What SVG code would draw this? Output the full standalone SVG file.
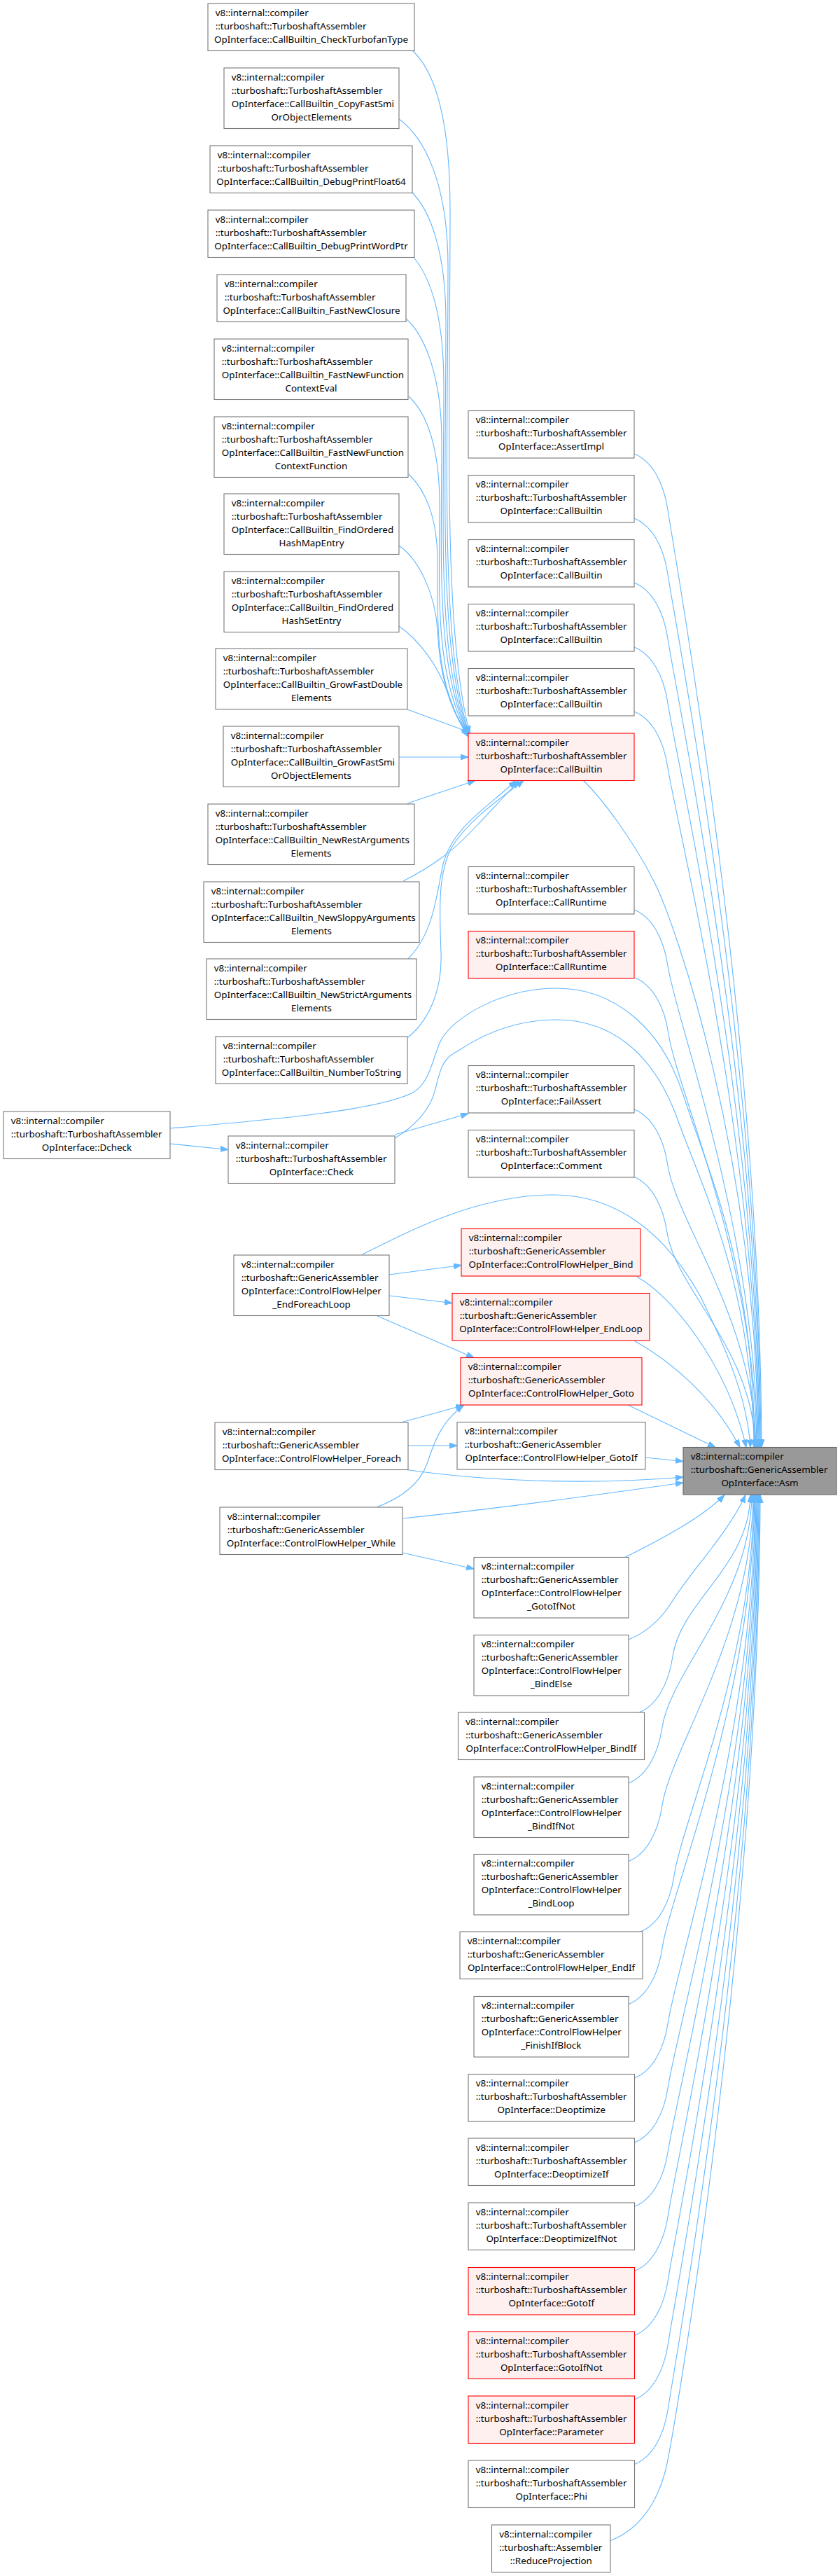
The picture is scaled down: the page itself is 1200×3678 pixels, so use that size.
<svg xmlns="http://www.w3.org/2000/svg" width="1200" height="3678" viewBox="0 0 1200 3678">
<style>
.n rect{fill:#ffffff;stroke:#777777;stroke-width:1.1}
.r rect{fill:#fff0f0;stroke:#ff0000;stroke-width:1.1}
.g rect{fill:#999999;stroke:#666666;stroke-width:1.1}
text{font-family:"Noto Sans","DejaVu Sans",sans-serif;font-size:13.4px;fill:#000000}
text.c{text-anchor:middle}
#edges path{fill:none;stroke:#63b8ff;stroke-width:1.1;marker-end:url(#ah)}
</style>
<defs>
<marker id="ah" markerUnits="userSpaceOnUse" markerWidth="12" markerHeight="10" viewBox="0 0 12 10" refX="11" refY="4" orient="auto"><path d="M0,0 L11,4 L0,8 Z" fill="#63b8ff" stroke="#63b8ff" stroke-width="1"/></marker>
</defs>
<rect width="1200" height="3678" fill="#ffffff"/>
<g id="edges">
<path d="M589,72 C625,105 643,180 643,300 C643,600 632,900 671,1047"/>
<path d="M570,170 C605,195 640,260 640,380 C640,650 628,920 670,1047.5"/>
<path d="M587,273 C615,300 637,360 637,460 C637,700 626,930 669.5,1048"/>
<path d="M589,365 C615,395 634,450 634,550 C634,760 624,940 669,1049"/>
<path d="M580,455 C608,480 631,540 631,630 C631,800 622,950 669,1050"/>
<path d="M584,566 C610,590 628,640 628,720 C628,850 620,960 669,1051"/>
<path d="M584,677 C608,700 625,740 625,800 C625,900 622,980 669,1052"/>
<path d="M570,779 C600,800 622,850 625,900 C628,960 640,1010 669,1050"/>
<path d="M570,894 C600,915 625,950 640,990 C648,1012 655,1030 669,1049"/>
<path d="M582,1013 L672,1046"/>
<path d="M570,1081 L669,1081"/>
<path d="M582,1147 L679,1114.5"/>
<path d="M576,1258 C615,1238 645,1218 680,1180 C705,1153 725,1133 741,1114.5"/>
<path d="M583,1369 C622,1330 624,1270 634,1230 C648,1180 700,1150 737,1114.5"/>
<path d="M583,1481 C615,1455 632,1410 630,1360 C628,1300 625,1250 645,1210 C670,1170 715,1140 748,1114.5"/>
<path d="M906,648 C931,658 948,688 954,728 C966,808 1086,1464 1088,2066.5"/>
<path d="M906,740 C931,750 948,780 954,820 C966,900 1085,1505 1087,2066.5"/>
<path d="M906,832 C931,842 948,872 954,912 C966,992 1084,1547 1086,2066.5"/>
<path d="M906,924 C931,934 948,964 954,1004 C966,1084 1083,1588 1085,2066.5"/>
<path d="M906,1016 C931,1026 948,1056 954,1096 C966,1176 1082,1630 1084,2066.5"/>
<path d="M833,1114 C860,1140 905,1200 935,1260 C965,1320 1081,1650 1083,2066.5"/>
<path d="M906,1299 C931,1309 948,1339 954,1379 C966,1459 1080,1757 1082,2066.5"/>
<path d="M907,1396 C932,1406 949,1436 955,1476 C967,1556 1079,1800 1081,2066.5"/>
<path d="M906,1584 C931,1594 948,1624 954,1664 C966,1744 1078,1885 1080,2066.5"/>
<path d="M905,1680 C930,1690 947,1720 953,1760 C965,1840 1077,1928 1079,2066.5"/>
<path d="M243,1633 L326,1641.5"/>
<path d="M243,1611 C400,1598 540,1585 590,1560 C615,1545 618,1510 630,1485 C650,1450 720,1411 795,1411 C880,1411 945,1470 975,1560 C1010,1670 1076,1800 1078,2066.5"/>
<path d="M564,1620 L669,1590"/>
<path d="M564,1625 C590,1610 615,1585 622,1555 C630,1520 635,1510 655,1500 C700,1470 745,1456 795,1456 C870,1456 930,1500 965,1590 C1000,1690 1075,1830 1077,2066.5"/>
<path d="M518,1791 C580,1760 680,1706 791,1706 C880,1706 950,1760 1000,1850 C1040,1930 1068,2000 1072,2066.5"/>
<path d="M556,1820 L659,1806.5"/>
<path d="M556,1850 L646,1860.5"/>
<path d="M538,1878.5 L677,1938.5"/>
<path d="M910,1823 C960,1850 1040,1950 1066,2066.5"/>
<path d="M906,1914 C960,1945 1020,1995 1057,2066.5"/>
<path d="M897,2006 L1022,2066.5"/>
<path d="M573,2031 L662,2006.5"/>
<path d="M538,2152 C575,2138 600,2118 610,2090 C620,2060 630,2030 662,2007"/>
<path d="M583,2064 L653,2064"/>
<path d="M922,2081 L976,2086.5"/>
<path d="M578,2098 C700,2116 850,2120 976,2109"/>
<path d="M575,2168 C700,2155 850,2135 976,2117"/>
<path d="M575,2217 L677,2240"/>
<path d="M893,2223.5 C950,2195 1005,2165 1035,2134.5"/>
<path d="M898,2341 C925,2330 945,2310 958,2290 C985,2245 1040,2190 1065,2134.5"/>
<path d="M913,2445 C938,2435 955,2405 961,2365 C973,2285 1070,2238 1072,2134.5"/>
<path d="M898,2546 C923,2536 940,2506 946,2466 C958,2386 1072,2283 1074,2134.5"/>
<path d="M898,2657.5 C923,2647.5 940,2617.5 946,2577.5 C958,2497.5 1074,2334 1076,2134.5"/>
<path d="M915,2758 C940,2748 957,2718 963,2678 C975,2598 1075,2379 1077,2134.5"/>
<path d="M898,2861.5 C923,2851.5 940,2821.5 946,2781.5 C958,2701.5 1076,2425 1078,2134.5"/>
<path d="M906.5,2967 C931.5,2957 948.5,2927 954.5,2887 C966.5,2807 1077,2473 1079,2134.5"/>
<path d="M906.5,3059 C931.5,3049 948.5,3019 954.5,2979 C966.5,2899 1078,2514 1080,2134.5"/>
<path d="M906.5,3150.5 C931.5,3140.5 948.5,3110.5 954.5,3070.5 C966.5,2990.5 1079,2555 1081,2134.5"/>
<path d="M906.5,3242.5 C931.5,3232.5 948.5,3202.5 954.5,3162.5 C966.5,3082.5 1080,2597 1082,2134.5"/>
<path d="M906.5,3334.5 C931.5,3324.5 948.5,3294.5 954.5,3254.5 C966.5,3174.5 1081,2638 1083,2134.5"/>
<path d="M906.5,3426 C931.5,3416 948.5,3386 954.5,3346 C966.5,3266 1082,2679 1084,2134.5"/>
<path d="M906.5,3518.5 C931.5,3508.5 948.5,3478.5 954.5,3438.5 C966.5,3358.5 1083,2721 1085,2134.5"/>
<path d="M872,3627.5 C905,3615 935,3585 950,3530 C962,3486 1084,2762 1086,2134.5"/>
</g>
<g id="n_checkturbofantype" class="n"><rect x="297" y="5" width="295" height="67.5"/><text x="307.7" y="22.5">v8::internal::compiler</text><text x="307.7" y="41.5">::turboshaft::TurboshaftAssembler</text><text class="c" x="444.5" y="60.5">OpInterface::CallBuiltin_CheckTurbofanType</text></g>
<g id="n_copyfastsmi" class="n"><rect x="320" y="97" width="250" height="86.5"/><text x="330.7" y="114.5">v8::internal::compiler</text><text x="330.7" y="133.5">::turboshaft::TurboshaftAssembler</text><text x="330.7" y="152.5">OpInterface::CallBuiltin_CopyFastSmi</text><text class="c" x="445" y="171.5">OrObjectElements</text></g>
<g id="n_debugprintfloat64" class="n"><rect x="300" y="208" width="289" height="67.5"/><text x="310.7" y="225.5">v8::internal::compiler</text><text x="310.7" y="244.5">::turboshaft::TurboshaftAssembler</text><text class="c" x="444.5" y="263.5">OpInterface::CallBuiltin_DebugPrintFloat64</text></g>
<g id="n_debugprintwordptr" class="n"><rect x="297" y="300" width="295" height="67.5"/><text x="307.7" y="317.5">v8::internal::compiler</text><text x="307.7" y="336.5">::turboshaft::TurboshaftAssembler</text><text class="c" x="444.5" y="355.5">OpInterface::CallBuiltin_DebugPrintWordPtr</text></g>
<g id="n_fastnewclosure" class="n"><rect x="310" y="392" width="270" height="67.5"/><text x="320.7" y="409.5">v8::internal::compiler</text><text x="320.7" y="428.5">::turboshaft::TurboshaftAssembler</text><text class="c" x="445" y="447.5">OpInterface::CallBuiltin_FastNewClosure</text></g>
<g id="n_contexteval" class="n"><rect x="306" y="484" width="277" height="86.5"/><text x="316.7" y="501.5">v8::internal::compiler</text><text x="316.7" y="520.5">::turboshaft::TurboshaftAssembler</text><text x="316.7" y="539.5">OpInterface::CallBuiltin_FastNewFunction</text><text class="c" x="444.5" y="558.5">ContextEval</text></g>
<g id="n_contextfunction" class="n"><rect x="306" y="595" width="277" height="86.5"/><text x="316.7" y="612.5">v8::internal::compiler</text><text x="316.7" y="631.5">::turboshaft::TurboshaftAssembler</text><text x="316.7" y="650.5">OpInterface::CallBuiltin_FastNewFunction</text><text class="c" x="444.5" y="669.5">ContextFunction</text></g>
<g id="n_hashmapentry" class="n"><rect x="320" y="705" width="250" height="86.5"/><text x="330.7" y="722.5">v8::internal::compiler</text><text x="330.7" y="741.5">::turboshaft::TurboshaftAssembler</text><text x="330.7" y="760.5">OpInterface::CallBuiltin_FindOrdered</text><text class="c" x="445" y="779.5">HashMapEntry</text></g>
<g id="n_hashsetentry" class="n"><rect x="320" y="816" width="250" height="86.5"/><text x="330.7" y="833.5">v8::internal::compiler</text><text x="330.7" y="852.5">::turboshaft::TurboshaftAssembler</text><text x="330.7" y="871.5">OpInterface::CallBuiltin_FindOrdered</text><text class="c" x="445" y="890.5">HashSetEntry</text></g>
<g id="n_growfastdouble" class="n"><rect x="308" y="926" width="274" height="86.5"/><text x="318.7" y="943.5">v8::internal::compiler</text><text x="318.7" y="962.5">::turboshaft::TurboshaftAssembler</text><text x="318.7" y="981.5">OpInterface::CallBuiltin_GrowFastDouble</text><text class="c" x="445" y="1000.5">Elements</text></g>
<g id="n_growfastsmi" class="n"><rect x="319" y="1037" width="251" height="86.5"/><text x="329.7" y="1054.5">v8::internal::compiler</text><text x="329.7" y="1073.5">::turboshaft::TurboshaftAssembler</text><text x="329.7" y="1092.5">OpInterface::CallBuiltin_GrowFastSmi</text><text class="c" x="444.5" y="1111.5">OrObjectElements</text></g>
<g id="n_newrest" class="n"><rect x="297" y="1148" width="295" height="86.5"/><text x="307.7" y="1165.5">v8::internal::compiler</text><text x="307.7" y="1184.5">::turboshaft::TurboshaftAssembler</text><text x="307.7" y="1203.5">OpInterface::CallBuiltin_NewRestArguments</text><text class="c" x="444.5" y="1222.5">Elements</text></g>
<g id="n_newsloppy" class="n"><rect x="291" y="1259" width="308" height="86.5"/><text x="301.7" y="1276.5">v8::internal::compiler</text><text x="301.7" y="1295.5">::turboshaft::TurboshaftAssembler</text><text x="301.7" y="1314.5">OpInterface::CallBuiltin_NewSloppyArguments</text><text class="c" x="445" y="1333.5">Elements</text></g>
<g id="n_newstrict" class="n"><rect x="295" y="1369" width="300" height="86.5"/><text x="305.7" y="1386.5">v8::internal::compiler</text><text x="305.7" y="1405.5">::turboshaft::TurboshaftAssembler</text><text x="305.7" y="1424.5">OpInterface::CallBuiltin_NewStrictArguments</text><text class="c" x="445" y="1443.5">Elements</text></g>
<g id="n_numbertostring" class="n"><rect x="308" y="1480" width="274" height="67.5"/><text x="318.7" y="1497.5">v8::internal::compiler</text><text x="318.7" y="1516.5">::turboshaft::TurboshaftAssembler</text><text class="c" x="445" y="1535.5">OpInterface::CallBuiltin_NumberToString</text></g>
<g id="n_check" class="n"><rect x="326" y="1622" width="238" height="67.5"/><text x="336.7" y="1639.5">v8::internal::compiler</text><text x="336.7" y="1658.5">::turboshaft::TurboshaftAssembler</text><text class="c" x="445" y="1677.5">OpInterface::Check</text></g>
<g id="n_dcheck" class="n"><rect x="5" y="1587" width="238" height="67.5"/><text x="15.7" y="1604.5">v8::internal::compiler</text><text x="15.7" y="1623.5">::turboshaft::TurboshaftAssembler</text><text class="c" x="124" y="1642.5">OpInterface::Dcheck</text></g>
<g id="n_endforeachloop" class="n"><rect x="334" y="1792" width="222" height="86.5"/><text x="344.7" y="1809.5">v8::internal::compiler</text><text x="344.7" y="1828.5">::turboshaft::GenericAssembler</text><text x="344.7" y="1847.5">OpInterface::ControlFlowHelper</text><text class="c" x="445" y="1866.5">_EndForeachLoop</text></g>
<g id="n_foreach" class="n"><rect x="307" y="2031" width="276" height="67.5"/><text x="317.7" y="2048.5">v8::internal::compiler</text><text x="317.7" y="2067.5">::turboshaft::GenericAssembler</text><text class="c" x="445" y="2086.5">OpInterface::ControlFlowHelper_Foreach</text></g>
<g id="n_while" class="n"><rect x="314" y="2152" width="261" height="67.5"/><text x="324.7" y="2169.5">v8::internal::compiler</text><text x="324.7" y="2188.5">::turboshaft::GenericAssembler</text><text class="c" x="444.5" y="2207.5">OpInterface::ControlFlowHelper_While</text></g>
<g id="n_assertimpl" class="n"><rect x="669" y="586.5" width="237" height="67.5"/><text x="679.7" y="604">v8::internal::compiler</text><text x="679.7" y="623">::turboshaft::TurboshaftAssembler</text><text class="c" x="787.5" y="642">OpInterface::AssertImpl</text></g>
<g id="n_callbuiltin1" class="n"><rect x="669" y="678.5" width="237" height="67.5"/><text x="679.7" y="696">v8::internal::compiler</text><text x="679.7" y="715">::turboshaft::TurboshaftAssembler</text><text class="c" x="787.5" y="734">OpInterface::CallBuiltin</text></g>
<g id="n_callbuiltin2" class="n"><rect x="669" y="770.5" width="237" height="67.5"/><text x="679.7" y="788">v8::internal::compiler</text><text x="679.7" y="807">::turboshaft::TurboshaftAssembler</text><text class="c" x="787.5" y="826">OpInterface::CallBuiltin</text></g>
<g id="n_callbuiltin3" class="n"><rect x="669" y="862.5" width="237" height="67.5"/><text x="679.7" y="880">v8::internal::compiler</text><text x="679.7" y="899">::turboshaft::TurboshaftAssembler</text><text class="c" x="787.5" y="918">OpInterface::CallBuiltin</text></g>
<g id="n_callbuiltin4" class="n"><rect x="669" y="954.5" width="237" height="67.5"/><text x="679.7" y="972">v8::internal::compiler</text><text x="679.7" y="991">::turboshaft::TurboshaftAssembler</text><text class="c" x="787.5" y="1010">OpInterface::CallBuiltin</text></g>
<g id="n_callbuiltin5" class="r"><rect x="669" y="1047" width="237" height="67.5"/><text x="679.7" y="1064.5">v8::internal::compiler</text><text x="679.7" y="1083.5">::turboshaft::TurboshaftAssembler</text><text class="c" x="787.5" y="1102.5">OpInterface::CallBuiltin</text></g>
<g id="n_callruntime1" class="n"><rect x="669" y="1237.5" width="237" height="67.5"/><text x="679.7" y="1255">v8::internal::compiler</text><text x="679.7" y="1274">::turboshaft::TurboshaftAssembler</text><text class="c" x="787.5" y="1293">OpInterface::CallRuntime</text></g>
<g id="n_callruntime2" class="r"><rect x="669" y="1329.5" width="237" height="67.5"/><text x="679.7" y="1347">v8::internal::compiler</text><text x="679.7" y="1366">::turboshaft::TurboshaftAssembler</text><text class="c" x="787.5" y="1385">OpInterface::CallRuntime</text></g>
<g id="n_failassert" class="n"><rect x="669" y="1521.5" width="237" height="67.5"/><text x="679.7" y="1539">v8::internal::compiler</text><text x="679.7" y="1558">::turboshaft::TurboshaftAssembler</text><text class="c" x="787.5" y="1577">OpInterface::FailAssert</text></g>
<g id="n_comment" class="n"><rect x="669" y="1613.5" width="237" height="67.5"/><text x="679.7" y="1631">v8::internal::compiler</text><text x="679.7" y="1650">::turboshaft::TurboshaftAssembler</text><text class="c" x="787.5" y="1669">OpInterface::Comment</text></g>
<g id="n_cfh_bind" class="r"><rect x="659" y="1754.5" width="256" height="67.5"/><text x="669.7" y="1772">v8::internal::compiler</text><text x="669.7" y="1791">::turboshaft::GenericAssembler</text><text class="c" x="787" y="1810">OpInterface::ControlFlowHelper_Bind</text></g>
<g id="n_cfh_endloop" class="r"><rect x="646" y="1846.5" width="282" height="67.5"/><text x="656.7" y="1864">v8::internal::compiler</text><text x="656.7" y="1883">::turboshaft::GenericAssembler</text><text class="c" x="787" y="1902">OpInterface::ControlFlowHelper_EndLoop</text></g>
<g id="n_cfh_goto" class="r"><rect x="658" y="1938.5" width="259" height="67.5"/><text x="668.7" y="1956">v8::internal::compiler</text><text x="668.7" y="1975">::turboshaft::GenericAssembler</text><text class="c" x="787.5" y="1994">OpInterface::ControlFlowHelper_Goto</text></g>
<g id="n_cfh_gotoif" class="n"><rect x="653" y="2030.5" width="269" height="67.5"/><text x="663.7" y="2048">v8::internal::compiler</text><text x="663.7" y="2067">::turboshaft::GenericAssembler</text><text class="c" x="787.5" y="2086">OpInterface::ControlFlowHelper_GotoIf</text></g>
<g id="n_asm" class="g"><rect x="976" y="2066.5" width="219" height="67.5"/><text x="986.7" y="2084">v8::internal::compiler</text><text x="986.7" y="2103">::turboshaft::GenericAssembler</text><text class="c" x="1085.5" y="2122">OpInterface::Asm</text></g>
<g id="n_cfh_gotoifnot" class="n"><rect x="677" y="2223.5" width="221" height="86.5"/><text x="687.7" y="2241">v8::internal::compiler</text><text x="687.7" y="2260">::turboshaft::GenericAssembler</text><text x="687.7" y="2279">OpInterface::ControlFlowHelper</text><text class="c" x="787.5" y="2298">_GotoIfNot</text></g>
<g id="n_cfh_bindelse" class="n"><rect x="677" y="2334.5" width="221" height="86.5"/><text x="687.7" y="2352">v8::internal::compiler</text><text x="687.7" y="2371">::turboshaft::GenericAssembler</text><text x="687.7" y="2390">OpInterface::ControlFlowHelper</text><text class="c" x="787.5" y="2409">_BindElse</text></g>
<g id="n_cfh_bindif" class="n"><rect x="654.5" y="2445" width="266" height="67.5"/><text x="665.2" y="2462.5">v8::internal::compiler</text><text x="665.2" y="2481.5">::turboshaft::GenericAssembler</text><text class="c" x="787.5" y="2500.5">OpInterface::ControlFlowHelper_BindIf</text></g>
<g id="n_cfh_bindifnot" class="n"><rect x="677" y="2537" width="221" height="86.5"/><text x="687.7" y="2554.5">v8::internal::compiler</text><text x="687.7" y="2573.5">::turboshaft::GenericAssembler</text><text x="687.7" y="2592.5">OpInterface::ControlFlowHelper</text><text class="c" x="787.5" y="2611.5">_BindIfNot</text></g>
<g id="n_cfh_bindloop" class="n"><rect x="677" y="2647.5" width="221" height="86.5"/><text x="687.7" y="2665">v8::internal::compiler</text><text x="687.7" y="2684">::turboshaft::GenericAssembler</text><text x="687.7" y="2703">OpInterface::ControlFlowHelper</text><text class="c" x="787.5" y="2722">_BindLoop</text></g>
<g id="n_cfh_endif" class="n"><rect x="657" y="2758" width="261" height="67.5"/><text x="667.7" y="2775.5">v8::internal::compiler</text><text x="667.7" y="2794.5">::turboshaft::GenericAssembler</text><text class="c" x="787.5" y="2813.5">OpInterface::ControlFlowHelper_EndIf</text></g>
<g id="n_cfh_finishifblock" class="n"><rect x="677" y="2850.5" width="221" height="86.5"/><text x="687.7" y="2868">v8::internal::compiler</text><text x="687.7" y="2887">::turboshaft::GenericAssembler</text><text x="687.7" y="2906">OpInterface::ControlFlowHelper</text><text class="c" x="787.5" y="2925">_FinishIfBlock</text></g>
<g id="n_deoptimize" class="n"><rect x="669" y="2961.5" width="237.5" height="67.5"/><text x="679.7" y="2979">v8::internal::compiler</text><text x="679.7" y="2998">::turboshaft::TurboshaftAssembler</text><text class="c" x="787.75" y="3017">OpInterface::Deoptimize</text></g>
<g id="n_deoptimizeif" class="n"><rect x="669" y="3053" width="237.5" height="67.5"/><text x="679.7" y="3070.5">v8::internal::compiler</text><text x="679.7" y="3089.5">::turboshaft::TurboshaftAssembler</text><text class="c" x="787.75" y="3108.5">OpInterface::DeoptimizeIf</text></g>
<g id="n_deoptimizeifnot" class="n"><rect x="669" y="3145" width="237.5" height="67.5"/><text x="679.7" y="3162.5">v8::internal::compiler</text><text x="679.7" y="3181.5">::turboshaft::TurboshaftAssembler</text><text class="c" x="787.75" y="3200.5">OpInterface::DeoptimizeIfNot</text></g>
<g id="n_gotoif" class="r"><rect x="669" y="3237.5" width="237.5" height="67.5"/><text x="679.7" y="3255">v8::internal::compiler</text><text x="679.7" y="3274">::turboshaft::TurboshaftAssembler</text><text class="c" x="787.75" y="3293">OpInterface::GotoIf</text></g>
<g id="n_gotoifnot" class="r"><rect x="669" y="3329" width="237.5" height="67.5"/><text x="679.7" y="3346.5">v8::internal::compiler</text><text x="679.7" y="3365.5">::turboshaft::TurboshaftAssembler</text><text class="c" x="787.75" y="3384.5">OpInterface::GotoIfNot</text></g>
<g id="n_parameter" class="r"><rect x="669" y="3421" width="237.5" height="67.5"/><text x="679.7" y="3438.5">v8::internal::compiler</text><text x="679.7" y="3457.5">::turboshaft::TurboshaftAssembler</text><text class="c" x="787.75" y="3476.5">OpInterface::Parameter</text></g>
<g id="n_phi" class="n"><rect x="669" y="3513" width="237.5" height="67.5"/><text x="679.7" y="3530.5">v8::internal::compiler</text><text x="679.7" y="3549.5">::turboshaft::TurboshaftAssembler</text><text class="c" x="787.75" y="3568.5">OpInterface::Phi</text></g>
<g id="n_reduceprojection" class="n"><rect x="702.5" y="3605" width="169.5" height="67.5"/><text x="713.2" y="3622.5">v8::internal::compiler</text><text x="713.2" y="3641.5">::turboshaft::Assembler</text><text class="c" x="787.25" y="3660.5">::ReduceProjection</text></g>
</svg>
